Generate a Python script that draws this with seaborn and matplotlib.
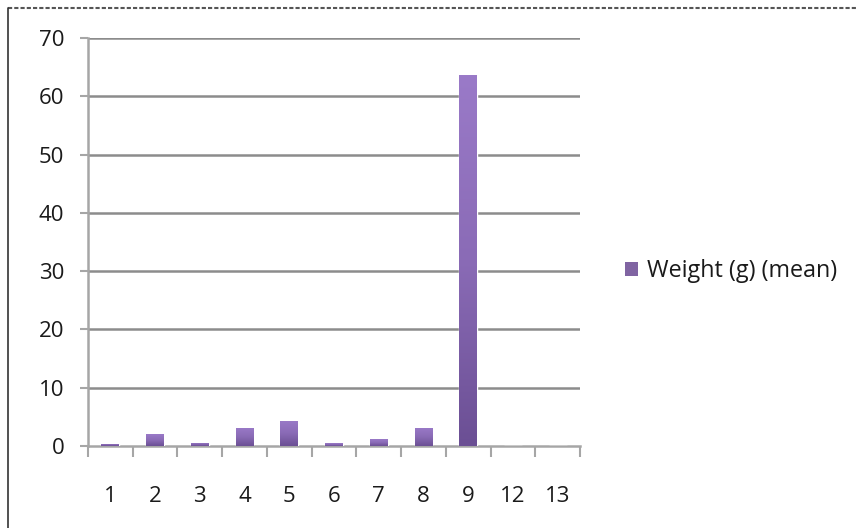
import numpy as np
import pandas as pd
import matplotlib
matplotlib.use("Agg")
import matplotlib.pyplot as plt
from matplotlib.colors import LinearSegmentedColormap
from matplotlib.lines import Line2D
from matplotlib.patches import Rectangle
import seaborn as sns

categories = ["1", "2", "3", "4", "5", "6", "7", "8", "9", "12", "13"]
weight_mean = [0.35, 2.0, 0.58, 3.15, 4.35, 0.45, 1.15, 3.15, 63.6, 0.08, 0.04]
y_ticks = [0, 10, 20, 30, 40, 50, 60, 70]
series_label = "Weight (g) (mean)"

sns.set_theme(style="white")
plt.rcParams["font.family"] = ["Open Sans", "DejaVu Sans"]

df = pd.DataFrame({"group": categories, "weight": weight_mean})

fig = plt.figure(figsize=(8.56, 5.28), dpi=100)
ax = fig.add_axes([0.1028, 0.1553, 0.5748, 0.7727])

bar_color = "#8064a2"
sns.barplot(data=df, x="group", y="weight", order=categories, color=bar_color,
            width=0.4, saturation=1, ax=ax, zorder=3)

# vertical shading on each bar: lighter at the top, darker at the base
shade = LinearSegmentedColormap.from_list("shade", ["#6b4f94", "#8a6bb6", "#9a7ac8"])
grad = np.linspace(0, 1, 256).reshape(-1, 1)
for patch in ax.patches:
    x0, y0 = patch.get_x(), patch.get_y()
    w, h = patch.get_width(), patch.get_height()
    if h <= 0:
        continue
    img = ax.imshow(grad, cmap=shade, origin="lower", aspect="auto",
                    extent=(x0, x0 + w, y0, y0 + h), zorder=4)
    img.set_clip_path(patch)

ax.set_xlim(-0.5, len(categories) - 0.5)
ax.set_ylim(0, 70)
ax.set_yticks(y_ticks)
ax.set_yticklabels([str(v) for v in y_ticks])
ax.set_xlabel("")
ax.set_ylabel("")

grid_c = "#8c8c8c"
for v in y_ticks[1:]:
    ax.axhline(v, color=grid_c, lw=1.8, zorder=1)

for side in ["top", "right"]:
    ax.spines[side].set_visible(False)
for side in ["left", "bottom"]:
    ax.spines[side].set_color("#a6a6a6")
    ax.spines[side].set_linewidth(1.8)

ax.tick_params(axis="y", which="major", direction="out", length=6, width=1.5,
               color="#a6a6a6", labelsize=16, pad=11, left=True)
ax.set_xticks(np.arange(len(categories)))
ax.set_xticklabels(categories)
ax.tick_params(axis="x", which="major", length=0, labelsize=16, pad=29)
ax.set_xticks(np.arange(len(categories) + 1) - 0.5, minor=True)
ax.tick_params(axis="x", which="minor", direction="out", length=8, width=1.5,
               color="#a6a6a6", bottom=True)
for lbl in ax.get_xticklabels() + ax.get_yticklabels():
    lbl.set_color("#1a1a1a")

handle = Rectangle((0, 0), 1, 1, facecolor=bar_color, edgecolor="none")
fig.legend([handle], [series_label], loc="center left",
           bbox_to_anchor=(0.706, 0.487), frameon=False, fontsize=16.8,
           handlelength=0.55, handleheight=0.55, handletextpad=0.38,
           labelcolor="#1a1a1a")

# page frame: dashed rule along the top, solid edge on the left
fig.add_artist(Line2D([0.0093, 1.0], [0.985, 0.985], transform=fig.transFigure,
                      color="#555555", lw=1.5, ls=(0, (2, 1))))
fig.add_artist(Line2D([0.0093, 0.0093], [0.0, 0.985], transform=fig.transFigure,
                      color="#333333", lw=1.2))

fig.savefig("out.png", dpi=100)
